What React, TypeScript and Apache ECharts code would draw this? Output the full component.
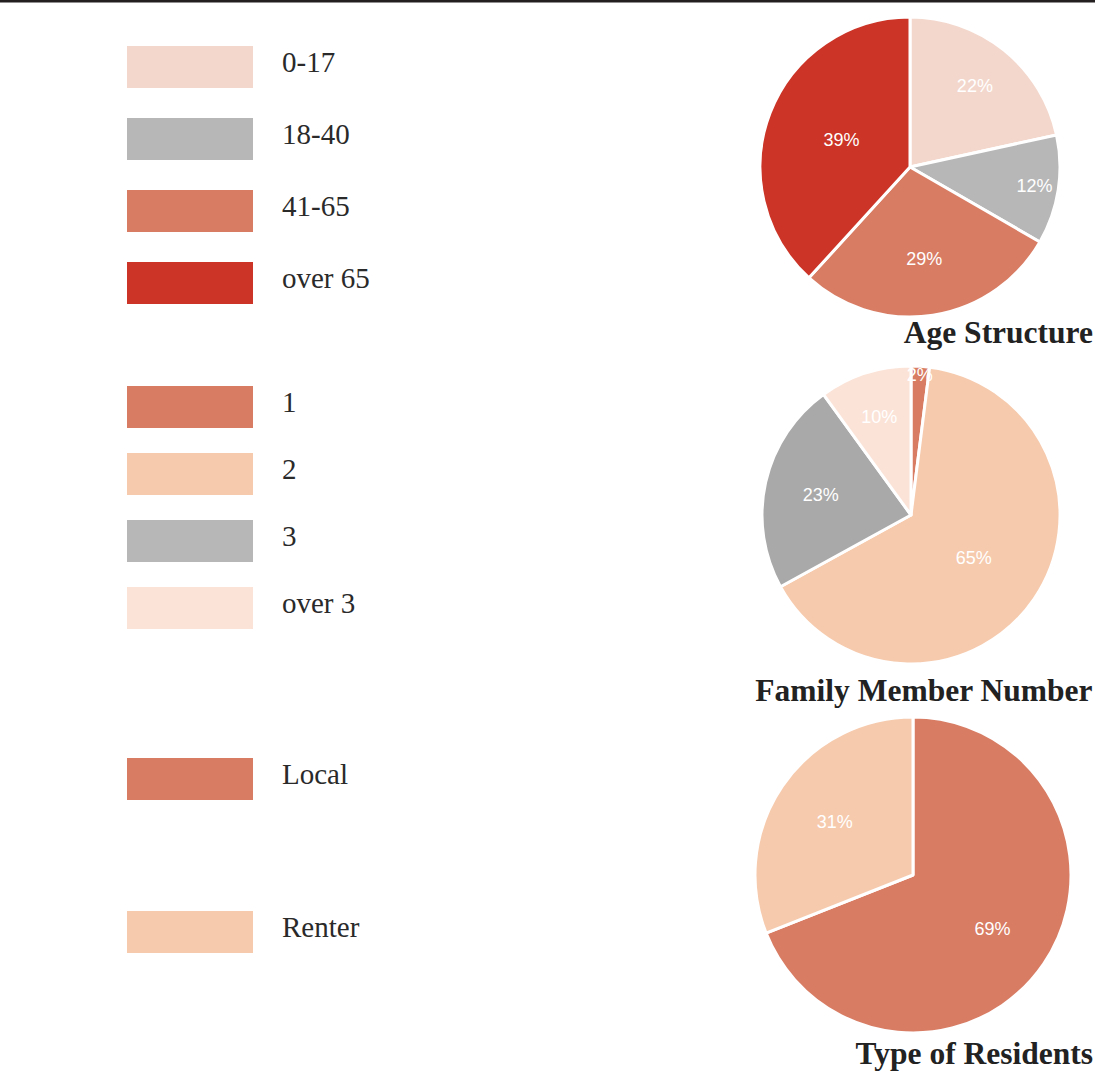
import React, { useEffect, useRef } from "react";
import * as echarts from "echarts";

const ageCats = ["0-17", "18-40", "41-65", "over 65"];
const ageVals = [22, 12, 29, 39];
const ageColors = ["#F3D7CC", "#B7B7B7", "#D87C64", "#CB3427"];

const famCats = ["1", "2", "3", "over 3"];
const famVals = [2, 65, 23, 10];
const famColors = ["#D87C64", "#F6CAAD", "#A9A9A9", "#FBE3D8"];

const resCats = ["Local", "Renter"];
const resVals = [69, 31];
const resColors = ["#D87C64", "#F6CAAD"];

const titles = ["Age Structure", "Family Member Number", "Type of Residents"];

// label radial position (fraction of radius) – style only
const ageLabelR = [0.67, 0.82, 0.6, 0.47];
const famLabelR = [0.92, 0.49, 0.6, 0.67];
const resLabelR = [0.59, 0.58];

function makeSeries(
  names: string[],
  vals: number[],
  colors: string[],
  center: number[],
  radius: number,
  fracs: number[]
) {
  const total = vals.reduce((a, b) => a + b, 0);
  let cum = 0;
  const data = names.map((n, i) => {
    const mid = ((cum + vals[i] / 2) / total) * Math.PI * 2;
    cum += vals[i];
    const d = (fracs[i] - 0.5) * radius;
    return {
      name: n,
      value: vals[i],
      itemStyle: { color: colors[i] },
      label: { offset: [d * Math.sin(mid), -d * Math.cos(mid)] },
    };
  });
  return {
    type: "pie",
    center,
    radius,
    startAngle: 90,
    clockwise: true,
    avoidLabelOverlap: false,
    itemStyle: { borderColor: "#ffffff", borderWidth: 3 },
    label: {
      show: true,
      position: "inside",
      formatter: "{c}%",
      color: "#ffffff",
      fontFamily: "Liberation Sans, Arial, sans-serif",
      fontSize: 18,
    },
    labelLine: { show: false },
    emphasis: { disabled: true },
    data,
  };
}

const serif = "Liberation Serif, Times New Roman, serif";

const legendBase = {
  orient: "vertical",
  left: 127,
  itemWidth: 126,
  itemHeight: 42,
  icon: "rect",
  selectedMode: false,
  itemStyle: { borderWidth: 0 },
  formatter: (name: string) => "{t|" + name + "}",
  textStyle: {
    fontFamily: serif,
    fontSize: 29,
    color: "#2a2a2a",
    rich: {
      t: {
        fontFamily: serif,
        fontSize: 29,
        color: "#2a2a2a",
        padding: [0, 0, 10, 24],
      },
    },
  },
  padding: 0,
};

export default function App() {
  const ref = useRef<HTMLDivElement>(null);
  useEffect(() => {
    if (!ref.current) return;
    const chart = echarts.init(ref.current, undefined, { renderer: "svg" });
    const titleStyle = {
      fontFamily: serif,
      fontSize: 31.5,
      fontWeight: "bold",
      color: "#222222",
    };
    chart.setOption({
      animation: false,
      backgroundColor: "#ffffff",
      title: [
        { text: titles[0], right: 22, top: 316, padding: 0, textStyle: titleStyle },
        { text: titles[1], right: 22, top: 674, padding: 0, textStyle: titleStyle },
        { text: titles[2], right: 22, top: 1037, padding: 0, textStyle: titleStyle },
      ],
      legend: [
        { ...legendBase, top: 46, itemGap: 30, data: ageCats },
        {
          ...legendBase,
          top: 386,
          itemGap: 25,
          data: famCats.map((n) =>
            n === "3" ? { name: n, itemStyle: { color: "#B7B7B7" } } : n
          ),
        },
        { ...legendBase, top: 758, itemGap: 111, data: resCats },
      ],
      graphic: [
        {
          type: "line",
          shape: { x1: 0, y1: 1, x2: 1095, y2: 1 },
          style: { stroke: "#231f20", lineWidth: 3 },
        },
      ],
      series: [
        makeSeries(ageCats, ageVals, ageColors, [910, 167], 150, ageLabelR),
        makeSeries(famCats, famVals, famColors, [911, 515], 149, famLabelR),
        makeSeries(resCats, resVals, resColors, [913, 875], 158, resLabelR),
      ],
    });
    return () => chart.dispose();
  }, []);
  return (
    <div
      ref={ref}
      style={{ position: "fixed", left: 0, top: 0, width: 1115, height: 1079 }}
    />
  );
}
